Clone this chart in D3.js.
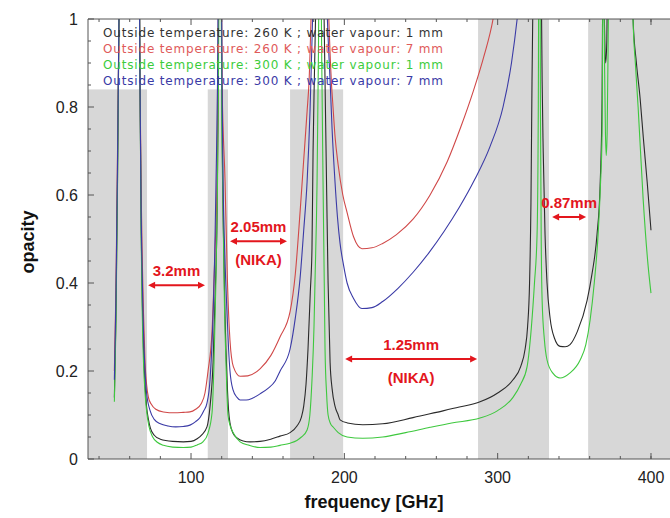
<!DOCTYPE html>
<html><head><meta charset="utf-8">
<script src="https://cdn.jsdelivr.net/npm/d3@7"></script>
<style>body{margin:0;background:#fff}svg{display:block}</style>
</head><body>
<svg id="chart" width="670" height="518"></svg>
<script>
// ---------- data ----------
const xMajorTicks = [100, 200, 300, 400];
const xMinorTicks = [40,60,80,120,140,160,180,220,240,260,280,320,340,360,380,400];
const yMajorTicks = [0, 0.2, 0.4, 0.6, 0.8, 1];
const yMinorTicks = [0.05,0.1,0.15,0.25,0.3,0.35,0.45,0.5,0.55,0.65,0.7,0.75,0.85,0.9,0.95];
const bandStart = [32.8, 110.9, 164.6, 287.2, 359];
const bandEnd   = [71.3, 124.1, 199.2, 333.5, 430];
const legendLabels = [
  "Outside temperature: 260 K ; water vapour: 1 mm",
  "Outside temperature: 260 K ; water vapour: 7 mm",
  "Outside temperature: 300 K ; water vapour: 1 mm",
  "Outside temperature: 300 K ; water vapour: 7 mm"
];
const windowNames = ["3.2mm", "2.05mm", "1.25mm", "0.87mm"];
const windowFrom  = [72, 125.4, 200.5, 335.5];
const windowTo    = [109.1, 162.6, 286.6, 357.7];
const windowLevel = [0.395, 0.495, 0.227, 0.55];
const windowNika  = [false, true, true, false];

// series: [frequency GHz, opacity]
const black260_1mm = [[50,0.14],[51,0.32],[52,0.62],[53,1.0],[54.5,1.6],[58,2.5],[63,2.5],[65.5,1.6],[66.7,0.86],[67.5,0.52],[68.2,0.36],[69,0.25],[70,0.17],[71,0.12],[72.2,0.09],[73.5,0.07],[76,0.054],[80,0.045],[88,0.04],[95,0.039],[100,0.04],[104,0.046],[107,0.055],[110.4,0.073],[112.4,0.12],[114.4,0.22],[115.8,0.38],[117,0.56],[117.8,0.86],[118.9,1.8],[120,0.86],[120.9,0.56],[122.2,0.32],[123.5,0.18],[124.5,0.11],[125.4,0.082],[127.5,0.058],[130,0.048],[134,0.041],[138.5,0.039],[145,0.04],[152,0.045],[158,0.052],[164.6,0.06],[169.1,0.075],[172,0.095],[173.5,0.12],[175,0.17],[176.3,0.25],[177.8,0.38],[178.9,0.48],[179.6,0.7],[180.4,0.86],[181.2,1.0],[184,1.8],[186.8,1.0],[187.4,0.86],[188.5,0.6],[189.4,0.4],[190.7,0.22],[192,0.16],[193.9,0.12],[196,0.1],[197.2,0.089],[202,0.082],[212,0.078],[225,0.08],[244.8,0.094],[260,0.106],[275,0.118],[288.5,0.13],[300,0.15],[310,0.18],[315,0.21],[317.9,0.25],[319.5,0.3],[320.8,0.4],[321.7,0.58],[322.4,0.86],[323.2,1.1],[325.8,1.8],[328.4,1.1],[329,0.86],[329.7,0.7],[330.9,0.51],[332.2,0.4],[334.2,0.32],[337,0.275],[340.7,0.256],[344,0.255],[347.2,0.26],[352,0.29],[358.3,0.36],[361.5,0.42],[364.8,0.51],[366.8,0.62],[368.1,0.82],[368.8,1.2],[369.6,1.0],[370.4,0.9],[371.2,0.95],[372.2,1.3],[376,2.5],[380,3.0],[386,2.0],[388.3,1.0],[390.5,0.9],[392.9,0.82],[395,0.73],[397.5,0.63],[400,0.52]];

const red260_7mm = [[50,0.2],[51,0.38],[52,0.68],[53,1.0],[54.5,1.6],[58,2.5],[63,2.5],[65.5,1.6],[66.7,0.86],[67.5,0.6],[68.2,0.45],[69,0.33],[70,0.22],[71,0.17],[72.2,0.14],[74,0.125],[77,0.113],[82,0.107],[89.6,0.105],[95,0.106],[99.3,0.107],[103,0.113],[106.5,0.125],[109.1,0.15],[111.1,0.2],[113.7,0.29],[115.7,0.48],[117,0.63],[117.6,0.86],[118.9,1.8],[120.2,0.86],[122.2,0.63],[123.7,0.41],[125.4,0.27],[127.6,0.21],[132,0.188],[137,0.189],[145,0.205],[152,0.235],[158.1,0.278],[164.6,0.335],[168,0.42],[171.1,0.56],[173.5,0.68],[175.7,0.79],[177,0.86],[179,1.1],[184,2.0],[189,1.1],[191.5,0.86],[192.6,0.8],[194,0.73],[195.9,0.67],[199,0.6],[201.8,0.56],[206,0.505],[211.5,0.478],[218,0.48],[225,0.49],[234,0.51],[244.8,0.545],[255.9,0.6],[267,0.675],[276,0.755],[284,0.835],[291,0.915],[297,1.0],[303,1.15]];

const green300_1mm = [[50,0.13],[51,0.3],[52,0.6],[53,1.0],[54.5,1.6],[58,2.5],[63,2.5],[65.5,1.6],[66.7,0.86],[67.5,0.5],[68.2,0.33],[69,0.22],[70,0.15],[71,0.11],[72.5,0.075],[75,0.05],[78,0.038],[82,0.031],[88,0.027],[95,0.026],[100,0.027],[104,0.032],[107.8,0.039],[111.1,0.059],[113.7,0.105],[115,0.22],[116.2,0.4],[117,0.56],[117.9,0.86],[118.9,1.8],[119.9,0.86],[120.9,0.56],[121.8,0.35],[122.8,0.22],[124.1,0.1],[125.6,0.075],[127.4,0.06],[132,0.039],[138,0.031],[145,0.026],[152,0.027],[158,0.031],[164.6,0.036],[169,0.042],[172,0.05],[175.7,0.066],[177.5,0.1],[178.9,0.18],[180.2,0.3],[180.9,0.41],[182.2,0.63],[182.9,0.86],[183.5,1.1],[184.1,1.8],[184.8,1.1],[185.4,0.86],[186.1,0.63],[186.9,0.4],[187.4,0.25],[188.4,0.15],[189.4,0.1],[191,0.08],[192.6,0.073],[196,0.06],[201.8,0.05],[212,0.047],[225,0.05],[240,0.06],[255.9,0.072],[270,0.082],[288.5,0.093],[300,0.11],[310,0.14],[315,0.17],[319.2,0.21],[322,0.3],[324,0.4],[325.7,0.51],[326.5,0.8],[327.2,1.6],[327.9,0.8],[328.4,0.5],[329,0.36],[330.5,0.27],[332.2,0.225],[336,0.195],[340.7,0.184],[347,0.195],[353.8,0.225],[357.5,0.26],[360.3,0.316],[363,0.4],[365.5,0.51],[367,0.62],[368.1,0.74],[368.9,1.3],[369.7,0.9],[370.3,0.74],[370.8,0.69],[371.4,0.74],[372.2,1.0],[374,1.6],[380,3.0],[386,2.0],[388.3,1.0],[389.8,0.9],[391.6,0.8],[394.9,0.59],[398.1,0.44],[400,0.377]];

const blue300_7mm = [[50,0.18],[51,0.36],[52,0.66],[53,1.0],[54.5,1.6],[58,2.5],[63,2.5],[65.5,1.6],[66.7,0.86],[67.5,0.55],[68.2,0.41],[68.9,0.3],[70,0.2],[71,0.15],[73.3,0.11],[76,0.09],[80,0.08],[85,0.075],[90,0.073],[95,0.074],[99.3,0.077],[103,0.085],[106,0.095],[108.4,0.11],[110.4,0.127],[112.4,0.18],[114.4,0.33],[115.5,0.47],[116.3,0.63],[117.3,0.86],[118.9,1.8],[120.2,0.86],[120.9,0.63],[122,0.47],[123.5,0.33],[124.5,0.25],[125.4,0.2],[127.4,0.157],[130,0.14],[132,0.134],[136,0.134],[140,0.138],[145,0.148],[150,0.16],[155,0.178],[158.1,0.2],[164.6,0.25],[168,0.32],[171.1,0.41],[173.5,0.52],[175.7,0.63],[177.6,0.79],[178.5,0.9],[180,1.1],[184,2.0],[188,1.1],[189.5,0.95],[190.7,0.86],[192,0.75],[193.9,0.63],[195.5,0.55],[197.2,0.49],[199.5,0.44],[201.8,0.4],[206,0.365],[211.5,0.342],[218,0.344],[225,0.358],[235,0.388],[245,0.425],[255,0.468],[265,0.517],[275,0.572],[285,0.635],[295,0.71],[303.5,0.8],[309,0.9],[312.7,1.0],[318,1.2]];

const seriesData   = [black260_1mm, red260_7mm, green300_1mm, blue300_7mm];
const seriesColors = ["#2a2a2a", "#d04848", "#3ec83e", "#3a3aa6"];
const legendColors = ["#333333", "#e05a5a", "#3ccc3c", "#3a3aa6"];

// ---------- drawing ----------
const svg = d3.select("#chart");
const x = d3.scaleLinear().domain([32.8, 412.4]).range([88, 670]);
const y = d3.scaleLinear().domain([0, 1]).range([459, 19]);
const [X0, X1] = x.range();
const [Y0, Y1] = y.range();

svg.append("defs").append("clipPath").attr("id", "plotclip")
  .append("rect").attr("x", X0).attr("y", Y1).attr("width", X1 - X0).attr("height", Y0 - Y1);

// shaded bands
svg.append("g").selectAll("rect").data(d3.range(bandStart.length)).join("rect")
  .attr("clip-path", "url(#plotclip)")
  .attr("x", i => x(bandStart[i])).attr("y", Y1)
  .attr("width", i => x(bandEnd[i]) - x(bandStart[i]))
  .attr("height", Y0 - Y1)
  .attr("fill", "#d7d7d7");

// legend background (white box)
svg.append("rect").attr("x", X0).attr("y", Y1).attr("width", x(287.2) - X0).attr("height", y(0.84) - Y1)
  .attr("fill", "#fff");

// curves
const line = d3.line().x(d => x(d[0])).y(d => y(d[1])).curve(d3.curveMonotoneX);
svg.append("g").attr("clip-path", "url(#plotclip)")
  .selectAll("path").data(seriesData).join("path")
  .attr("d", line).attr("fill", "none")
  .attr("stroke", (d, i) => seriesColors[i]).attr("stroke-width", 1.1);

// legend text
svg.append("g").selectAll("text").data(legendLabels).join("text")
  .attr("x", 103).attr("y", (d, i) => 33 + i * 16)
  .attr("dominant-baseline", "central")
  .attr("font-family", "DejaVu Sans, sans-serif").attr("font-size", 12)
  .attr("textLength", 340).attr("lengthAdjust", "spacing")
  .attr("fill", (d, i) => legendColors[i]).text(d => d);

// frame
const axisColor = "#555";
svg.append("path").attr("d", `M${X0},${Y1}V${Y0}H${X1}M${X0},${Y1}H${X1}`)
  .attr("fill", "none").attr("stroke", axisColor).attr("stroke-width", 1);

// ticks
const tickG = svg.append("g").attr("stroke", axisColor).attr("stroke-width", 1);
xMajorTicks.forEach(v => {
  tickG.append("line").attr("x1", x(v)).attr("x2", x(v)).attr("y1", Y0).attr("y2", Y0 - 6);
  tickG.append("line").attr("x1", x(v)).attr("x2", x(v)).attr("y1", Y1).attr("y2", Y1 + 6);
});
xMinorTicks.forEach(v => {
  tickG.append("line").attr("x1", x(v)).attr("x2", x(v)).attr("y1", Y0).attr("y2", Y0 - 3);
  tickG.append("line").attr("x1", x(v)).attr("x2", x(v)).attr("y1", Y1).attr("y2", Y1 + 3);
});
yMajorTicks.forEach(v => {
  tickG.append("line").attr("x1", X0).attr("x2", X0 + 6).attr("y1", y(v)).attr("y2", y(v));
});
yMinorTicks.forEach(v => {
  tickG.append("line").attr("x1", X0).attr("x2", X0 + 3).attr("y1", y(v)).attr("y2", y(v));
});

// tick labels
const fmtY = d => d === 0 ? "0" : d === 1 ? "1" : d3.format(".1f")(d);
svg.append("g").selectAll("text").data(yMajorTicks).join("text")
  .attr("x", 78).attr("y", d => y(d)).attr("text-anchor", "end").attr("dominant-baseline", "central")
  .attr("font-family", "Liberation Sans, Arial, sans-serif").attr("font-size", 16).attr("fill", "#222")
  .text(fmtY);
svg.append("g").selectAll("text").data(xMajorTicks).join("text")
  .attr("x", d => x(d)).attr("y", 477).attr("text-anchor", "middle").attr("dominant-baseline", "central")
  .attr("font-family", "Liberation Sans, Arial, sans-serif").attr("font-size", 16).attr("fill", "#222")
  .text(d => d);

// axis titles
svg.append("text").attr("x", 374).attr("y", 502).attr("text-anchor", "middle").attr("dominant-baseline", "central")
  .attr("font-family", "Liberation Sans, Arial, sans-serif").attr("font-size", 18).attr("font-weight", "bold")
  .attr("fill", "#111").text("frequency [GHz]");
svg.append("text").attr("transform", "translate(28,242) rotate(-90)").attr("text-anchor", "middle")
  .attr("dominant-baseline", "central")
  .attr("font-family", "Liberation Sans, Arial, sans-serif").attr("font-size", 18).attr("font-weight", "bold")
  .attr("fill", "#111").text("opacity");

// window annotations
const red = "#e3161d";
const ann = svg.append("g");
windowNames.forEach((name, i) => {
  const xa = x(windowFrom[i]), xb = x(windowTo[i]), ya = y(windowLevel[i]);
  const h = 7, w = 3.5;
  ann.append("line").attr("x1", xa + 4).attr("x2", xb - 4).attr("y1", ya).attr("y2", ya)
    .attr("stroke", red).attr("stroke-width", 2);
  ann.append("path").attr("d", `M${xa},${ya}L${xa + h},${ya - w}L${xa + h},${ya + w}Z`).attr("fill", red);
  ann.append("path").attr("d", `M${xb},${ya}L${xb - h},${ya - w}L${xb - h},${ya + w}Z`).attr("fill", red);
  const cx = (xa + xb) / 2;
  ann.append("text").attr("x", cx).attr("y", ya - 15).attr("text-anchor", "middle").attr("dominant-baseline", "central")
    .attr("font-family", "Liberation Sans, Arial, sans-serif").attr("font-size", 15).attr("font-weight", "bold")
    .attr("fill", red).text(name);
  if (windowNika[i]) {
    ann.append("text").attr("x", cx).attr("y", ya + 18).attr("text-anchor", "middle").attr("dominant-baseline", "central")
      .attr("font-family", "Liberation Sans, Arial, sans-serif").attr("font-size", 15).attr("font-weight", "bold")
      .attr("fill", red).text("(NIKA)");
  }
});
</script>
</body></html>
